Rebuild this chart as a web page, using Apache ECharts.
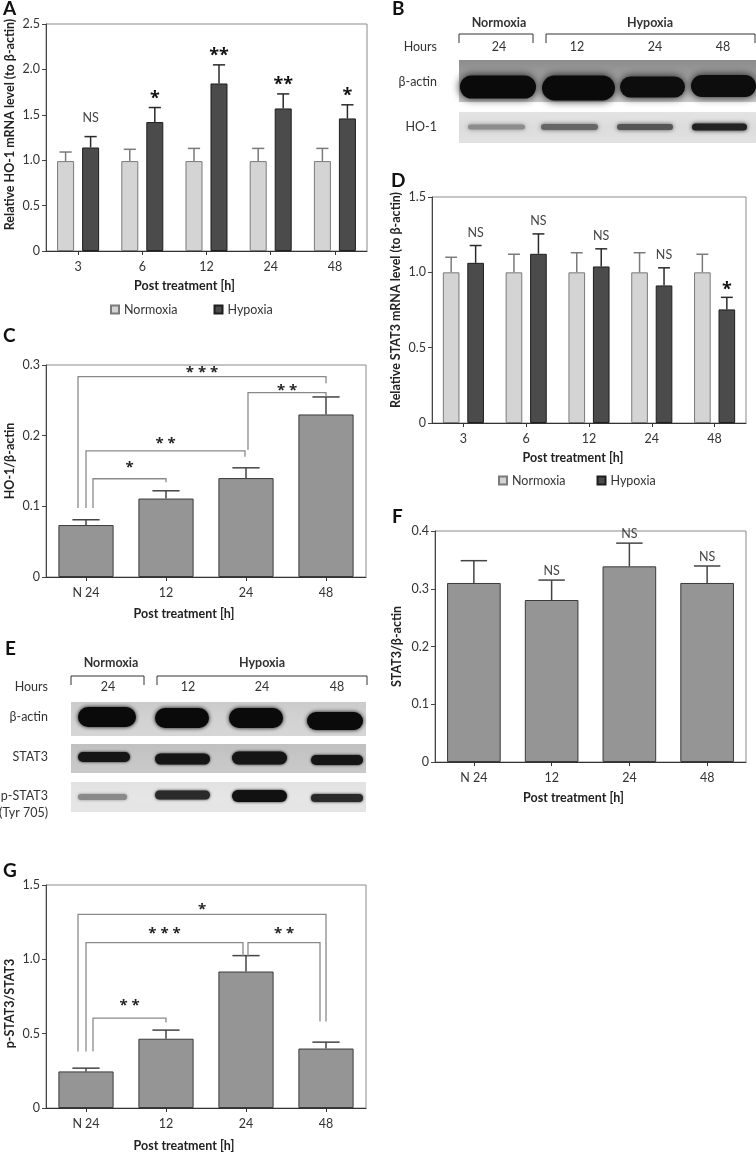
<!DOCTYPE html>
<html><head><meta charset="utf-8">
<script src="https://cdn.jsdelivr.net/npm/echarts@6/dist/echarts.min.js"></script>
<style>html,body{margin:0;padding:0;background:#fff}#c{width:756px;height:1154px}</style>
</head><body><div id="c"></div>
<script>
const FONT = 'Lato';
const STAR_FONT = 'Open Sans';
// ---------- Panel A : HO-1 mRNA ----------
const timeCats = ['3', '6', '12', '24', '48'];
const hoNormoxia = [0.99, 0.99, 0.99, 0.99, 0.99];
const hoNormoxiaErr = [1.09, 1.12, 1.13, 1.13, 1.13];
const hoHypoxia = [1.14, 1.42, 1.845, 1.57, 1.46];
const hoHypoxiaErr = [1.26, 1.58, 2.05, 1.73, 1.61];
const hoSig = ['NS', '*', '**', '**', '*'];
// ---------- Panel C : HO-1/β-actin ----------
const blotCats = ['N 24', '12', '24', '48'];
const hoRatio = [0.0735, 0.111, 0.140, 0.230];
const hoRatioErr = [0.081, 0.122, 0.1545, 0.2548];
// comparison: [from, to, bracketTop, leftFoot, rightFoot, label]
const hoComparisons = [
  [0, 3, 0.2835, 0.0975, 0.274, '* * *'],
  [2, 3, 0.261, 0.180, 0.255, '* *'],
  [0, 2, 0.1785, 0.0975, 0.170, '* *'],
  [0, 1, 0.139, 0.0975, 0.134, '*']
];
// ---------- Panel D : STAT3 mRNA ----------
const statNormoxia = [1.0, 1.0, 1.0, 1.0, 1.0];
const statNormoxiaErr = [1.10, 1.12, 1.13, 1.13, 1.12];
const statHypoxia = [1.063, 1.123, 1.039, 0.913, 0.754];
const statHypoxiaErr = [1.178, 1.255, 1.156, 1.03, 0.834];
const statSig = ['NS', 'NS', 'NS', 'NS', '*'];
// ---------- Panel F : STAT3/β-actin ----------
const statRatio = [0.31, 0.2805, 0.3388, 0.31];
const statRatioErr = [0.3486, 0.315, 0.379, 0.3394];
const statRatioSig = ['', 'NS', 'NS', 'NS'];
// ---------- Panel G : p-STAT3/STAT3 ----------
const pstatRatio = [0.246, 0.466, 0.918, 0.40];
const pstatRatioErr = [0.268, 0.524, 1.025, 0.443];
const pstatComparisons = [
  [0, 3, 1.303, 0.38, 0.582, '*'],
  [0, 2, 1.113, 0.38, 1.019, '* * *'],
  [2, 3, 1.113, 1.019, 0.582, '* *'],
  [0, 1, 0.604, 0.38, 0.575, '* *']
];
// ---------- tick values ----------
const ticksA = [0, 0.5, 1.0, 1.5, 2.0, 2.5];
const ticksC = [0, 0.1, 0.2, 0.3];
const ticksD = [0, 0.5, 1.0, 1.5];
const ticksF = [0, 0.1, 0.2, 0.3, 0.4];
const ticksG = [0, 0.5, 1.0, 1.5];
// ---------- western blot labels ----------
const laneHours = ['24', '12', '24', '48'];
const blotRowsB = ['β-actin', 'HO-1'];
const blotRowsE = ['β-actin', 'STAT3', 'p-STAT3'];

// ======= styling / layout =======
const TXT = '#333';
const bracketLeg = { // pixel nudges of bracket legs & label gaps (layout only)
  C: [[-8, 0, 7], [2, 0, 5], [0, -1, 10], [7, 0, 14]],
  G: [[-8, 0, 8], [0, -3, 12], [2, -6, 12], [7, 0, 15]]
};
const fmt = v => v === 0 ? '0' : v.toFixed(1);

function yAxisOf(grid, ticks, name, gap, pad) {
  return {
    type: 'value', gridIndex: grid, min: ticks[0], max: ticks[ticks.length - 1],
    interval: ticks[1] - ticks[0],
    axisLine: {show: true, lineStyle: {color: '#444', width: 1}},
    axisTick: {show: true, length: 4, lineStyle: {color: '#444'}},
    splitLine: {show: false},
    axisLabel: {formatter: fmt, color: TXT, fontSize: 12.5, fontFamily: FONT, margin: 6},
    name: name, nameLocation: 'middle', nameGap: gap, nameRotate: 90,
    nameTextStyle: {fontSize: 12.5, fontWeight: 'bold', color: '#222', fontFamily: FONT, padding: pad}
  };
}
function xAxisOf(grid, cats, gap, shift) {
  return {
    type: 'category', gridIndex: grid, data: cats,
    axisLine: {lineStyle: {color: '#333', width: 1}},
    axisTick: {show: true, alignWithLabel: true, length: 4, lineStyle: {color: '#333'}},
    axisLabel: {color: TXT, fontSize: 12.5, fontFamily: FONT, margin: 9},
    name: 'Post treatment [h]', nameLocation: 'middle', nameGap: gap,
    nameTextStyle: {fontSize: 12.5, fontWeight: 'bold', color: '#222', fontFamily: FONT, padding: [0, shift * 2, 0, 0]}
  };
}
function errSeries(grid, vals, errs, offFrac, capFrac, color, sig, nsGap, starGap) {
  return {
    type: 'custom', xAxisIndex: grid, yAxisIndex: grid, z: 5, silent: true,
    encode: {x: 0, y: [1, 2]},
    data: vals.map((v, i) => [i, v, errs[i]]),
    renderItem: function (params, api) {
      const i = params.dataIndex;
      const band = api.size([1, 0])[0];
      const p0 = api.coord([api.value(0), api.value(1)]);
      const p1 = api.coord([api.value(0), api.value(2)]);
      const x = p0[0] + offFrac * band, hw = capFrac * band / 2;
      const kids = [
        {type: 'line', shape: {x1: x, y1: p0[1], x2: x, y2: p1[1]}, style: {stroke: color, lineWidth: 1.5}},
        {type: 'line', shape: {x1: x - hw, y1: p1[1], x2: x + hw, y2: p1[1]}, style: {stroke: color, lineWidth: 1.5}}
      ];
      const s = sig ? sig[i] : '';
      if (s) {
        const isStar = s.indexOf('*') >= 0;
        kids.push({type: 'text', style: {
          text: s, x: x, y: p1[1] - (isStar ? starGap : nsGap) + (isStar ? 4 : 0),
          align: 'center', verticalAlign: 'middle',
          fontSize: isStar ? 18 : 12.5, fontWeight: isStar ? 'bold' : 'normal',
          fontFamily: isStar ? STAR_FONT : FONT, fill: isStar ? '#111' : '#444'
        }});
      }
      return {type: 'group', children: kids};
    }
  };
}
function bracketSeries(grid, list, legs) {
  return {
    type: 'custom', xAxisIndex: grid, yAxisIndex: grid, z: 6, silent: true,
    encode: {x: 0, y: 1},
    data: list.map(b => [b[0], b[2]]),
    renderItem: function (params, api) {
      const b = list[params.dataIndex], lg = legs[params.dataIndex];
      const pl = api.coord([b[0], b[3]]), pr = api.coord([b[1], b[4]]), pt = api.coord([b[0], b[2]]);
      const xl = pl[0] + lg[0], xr = pr[0] + lg[1];
      return {type: 'group', children: [
        {type: 'polyline', shape: {points: [[xl, pl[1]], [xl, pt[1]], [xr, pt[1]], [xr, pr[1]]]},
          style: {stroke: '#8a8a8a', lineWidth: 1.3, fill: null}},
        {type: 'text', style: {text: b[5], x: (xl + xr) / 2, y: pt[1] - lg[2] + 3, align: 'center', verticalAlign: 'middle',
          fontSize: 15, fontWeight: 'bold', fontFamily: STAR_FONT, fill: '#222'}}
      ]};
    }
  };
}
const normStyle = {color: '#d4d4d4', borderColor: '#7a7a7a', borderWidth: 1};
const hypoStyle = {color: '#4b4b4b', borderColor: '#1e1e1e', borderWidth: 1};
const grayStyle = {color: '#959595', borderColor: '#3a3a3a', borderWidth: 1};
const gridBase = {show: true, borderColor: '#8a8a8a', borderWidth: 1, backgroundColor: 'transparent', containLabel: false, outerBoundsMode: 'none'};
const OFF = 0.1948, GCAP = 0.19, SCAP = 0.34;

// ======= western blot drawings (image decoration) =======
const g = [];
function txt(t, x, y, align, bold, size) {
  g.push({type: 'text', silent: true, style: {text: t, x: x, y: y, align: align || 'center', verticalAlign: 'middle',
    fontSize: size || 12.5, fontWeight: bold ? 'bold' : 'normal', fontFamily: FONT, fill: TXT}});
}
function brk(x0, x1, y) {
  g.push({type: 'polyline', silent: true, shape: {points: [[x0, y + 9], [x0, y], [x1, y], [x1, y + 9]]}, style: {stroke: '#333', lineWidth: 1, fill: null}});
}
function strip(x, y, w, h, stops) {
  g.push({type: 'rect', silent: true, shape: {x: x, y: y, width: w, height: h},
    style: {fill: new echarts.graphic.LinearGradient(0, 0, 0, 1, stops.map((c, i) => ({offset: i / (stops.length - 1), color: c})))}});
}
function band(x0, x1, cy, h, color, blur) {
  g.push({type: 'rect', silent: true, shape: {x: x0, y: cy - h / 2, width: x1 - x0, height: h, r: h / 2},
    style: {fill: color, shadowBlur: blur, shadowColor: color}});
}
// Panel letters
[['A', 3, 9], ['B', 392, 9], ['C', 3, 336], ['D', 391, 181], ['E', 5, 649], ['F', 392, 517], ['G', 3, 871]]
  .forEach(p => g.push({type: 'text', silent: true, style: {text: p[0], x: p[1], y: p[2], verticalAlign: 'middle',
    fontSize: 19, fontWeight: 'bold', fontFamily: FONT, fill: '#111'}}));
// ---- B ----
txt('Normoxia', 499, 23, 'center', true); brk(459, 533, 34);
txt('Hypoxia', 650, 23, 'center', true); brk(546, 755, 34);
txt('Hours', 437, 47, 'right');
[499, 577, 655, 723].forEach((x, i) => txt(laneHours[i], x, 47));
txt(blotRowsB[0], 437, 82, 'right'); txt(blotRowsB[1], 437, 127, 'right');
strip(459, 60, 297, 42, ['#8c8c8c', '#9c9c9c', '#bdbdbd', '#cacaca']);
band(460, 536, 87, 23, '#0a0a0a', 8); band(542, 615, 88, 25, '#0a0a0a', 8);
band(620, 685, 87, 21, '#0d0d0d', 8); band(691, 756, 86, 22, '#0d0d0d', 8);
strip(459, 112, 297, 31, ['#e4e4e4', '#dcdcdc', '#e2e2e2']);
band(468, 525, 127, 5, '#8c8c8c', 4); band(541, 598, 127, 6, '#666', 4);
band(617, 673, 127, 6, '#555', 4); band(692, 747, 127, 7, '#222', 4);
// ---- E ----
txt('Normoxia', 111, 663, 'center', true); brk(71, 144, 676);
txt('Hypoxia', 262, 663, 'center', true); brk(157, 367, 676);
txt('Hours', 48, 687, 'right');
[108, 188, 262, 337].forEach((x, i) => txt(laneHours[i], x, 687));
txt(blotRowsE[0], 48, 717, 'right'); txt(blotRowsE[1], 48, 757, 'right');
txt(blotRowsE[2], 48, 796, 'right'); txt('(Tyr 705)', 48, 813, 'right');
strip(71, 702, 295, 34, ['#cbcbcb', '#d2d2d2', '#d6d6d6']);
band(78, 136, 717, 20, '#0a0a0a', 4); band(155, 209, 718, 20, '#0a0a0a', 4);
band(229, 283, 718, 20, '#0a0a0a', 4); band(307, 363, 721, 18, '#0a0a0a', 4);
strip(71, 744, 295, 29, ['#c0c0c0', '#c6c6c6', '#c9c9c9']);
band(78, 130, 757, 10, '#151515', 3); band(155, 210, 759, 11, '#151515', 3);
band(232, 287, 758, 13, '#151515', 3); band(311, 363, 760, 10, '#151515', 3);
strip(71, 782, 295, 30, ['#e2e2e2', '#e6e6e6', '#e4e4e4']);
band(78, 127, 797, 6, '#8a8a8a', 3); band(155, 210, 795, 9, '#2a2a2a', 3);
band(232, 287, 796, 12, '#111', 3); band(311, 363, 798, 8, '#2a2a2a', 3);

const chart = echarts.init(document.getElementById('c'), null, {renderer: 'canvas', width: 756, height: 1154});
chart.setOption({
  backgroundColor: '#fff',
  animation: false,
  textStyle: {fontFamily: FONT},
  grid: [
    Object.assign({left: 46, top: 24, width: 321, height: 227}, gridBase),   // A
    Object.assign({left: 46, top: 365, width: 320, height: 212}, gridBase),  // C
    Object.assign({left: 432, top: 197, width: 314, height: 226}, gridBase), // D
    Object.assign({left: 435, top: 531, width: 311, height: 231}, gridBase), // F
    Object.assign({left: 46, top: 885, width: 320, height: 223}, gridBase)   // G
  ],
  xAxis: [xAxisOf(0, timeCats, 28, 22), xAxisOf(1, blotCats, 30, 22), xAxisOf(2, timeCats, 28, 16),
          xAxisOf(3, blotCats, 29, 17), xAxisOf(4, blotCats, 31, 22)],
  yAxis: [
    yAxisOf(0, ticksA, 'Relative HO-1 mRNA level (to β-actin)', 30, [0, 0, 0, 26]),
    yAxisOf(1, ticksC, 'HO-1/β-actin', 30, [0, 0, 0, 20]),
    yAxisOf(2, ticksD, 'Relative STAT3 mRNA level (to β-actin)', 30, [0, 0, 0, 20]),
    yAxisOf(3, ticksF, 'STAT3/β-actin', 32, [0, 0, 0, 0]),
    yAxisOf(4, ticksG, 'p-STAT3/STAT3', 30, [0, 14, 0, 0])
  ],
  legend: [
    {left: 105, top: 298, itemWidth: 8, itemHeight: 8, itemGap: 36, icon: 'rect', data: ['Normoxia', 'Hypoxia'], selectedMode: false,
      textStyle: {fontSize: 12.5, color: TXT, fontFamily: FONT}},
    {left: 493, top: 469, itemWidth: 8, itemHeight: 8, itemGap: 31, icon: 'rect', data: ['Normoxia', 'Hypoxia'], selectedMode: false,
      textStyle: {fontSize: 12.5, color: TXT, fontFamily: FONT}}
  ],
  series: [
    {name: 'Normoxia', type: 'bar', xAxisIndex: 0, yAxisIndex: 0, data: hoNormoxia, barWidth: '26.5%', barGap: '47%', itemStyle: normStyle},
    {name: 'Hypoxia', type: 'bar', xAxisIndex: 0, yAxisIndex: 0, data: hoHypoxia, barWidth: '26.5%', barGap: '47%', itemStyle: hypoStyle},
    errSeries(0, hoNormoxia, hoNormoxiaErr, -OFF, GCAP, '#7a7a7a', null),
    errSeries(0, hoHypoxia, hoHypoxiaErr, OFF, GCAP, '#2a2a2a', hoSig, 19, 13),

    {name: 'HO-1/β-actin', type: 'bar', xAxisIndex: 1, yAxisIndex: 1, data: hoRatio, barWidth: '69%', itemStyle: grayStyle},
    errSeries(1, hoRatio, hoRatioErr, 0, SCAP, '#444', null),
    bracketSeries(1, hoComparisons, bracketLeg.C),

    {name: 'Normoxia', type: 'bar', xAxisIndex: 2, yAxisIndex: 2, data: statNormoxia, barWidth: '26.5%', barGap: '47%', itemStyle: normStyle},
    {name: 'Hypoxia', type: 'bar', xAxisIndex: 2, yAxisIndex: 2, data: statHypoxia, barWidth: '26.5%', barGap: '47%', itemStyle: hypoStyle},
    errSeries(2, statNormoxia, statNormoxiaErr, -OFF, GCAP, '#7a7a7a', null),
    errSeries(2, statHypoxia, statHypoxiaErr, OFF, GCAP, '#2a2a2a', statSig, 13, 11),

    {name: 'STAT3/β-actin', type: 'bar', xAxisIndex: 3, yAxisIndex: 3, data: statRatio, barWidth: '69%', itemStyle: grayStyle},
    errSeries(3, statRatio, statRatioErr, 0, SCAP, '#444', statRatioSig, 9, 9),

    {name: 'p-STAT3/STAT3', type: 'bar', xAxisIndex: 4, yAxisIndex: 4, data: pstatRatio, barWidth: '69%', itemStyle: grayStyle},
    errSeries(4, pstatRatio, pstatRatioErr, 0, SCAP, '#444', null),
    bracketSeries(4, pstatComparisons, bracketLeg.G)
  ],
  graphic: g
});
</script>
</body></html>
